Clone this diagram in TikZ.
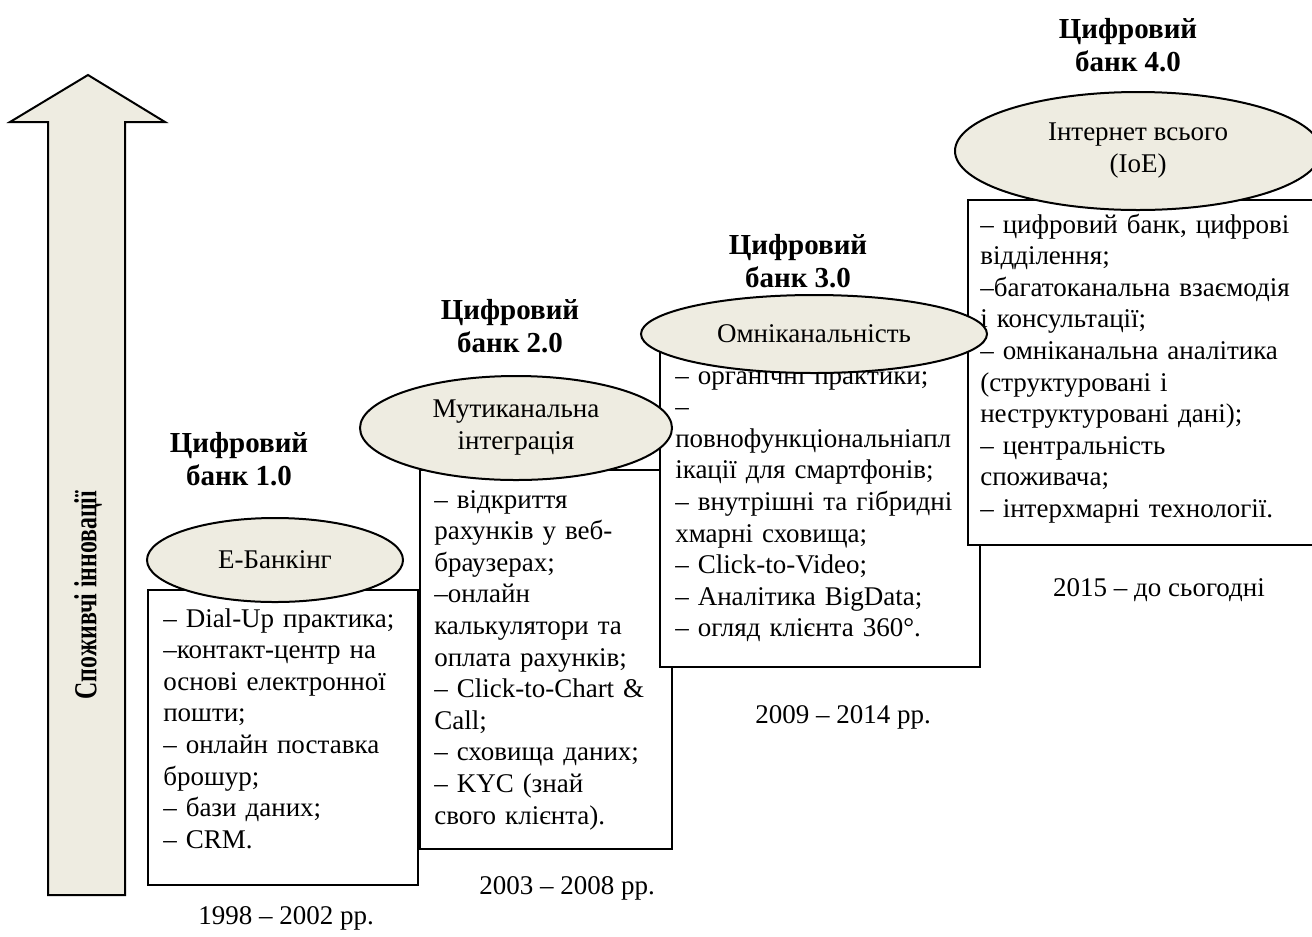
\documentclass[tikz,border=0pt]{standalone}
\usepackage{fontspec}
\setmainfont{Liberation Serif}
\usetikzlibrary{shapes.geometric,fit}
\definecolor{shade}{HTML}{EEECE1}
\begin{document}
\begin{tikzpicture}[x=0.75pt,y=-0.75pt,
  stagebox/.style={draw=black, line width=1.5pt, fill=white, inner sep=0pt},
  oval/.style={ellipse, draw=black, line width=1.5pt, fill=shade, inner sep=0pt,
    align=center, font=\fontsize{20.25}{24}\selectfont},
  stagetitle/.style={align=center, inner sep=0pt, anchor=base,
    font=\fontsize{21.75}{24.75}\selectfont\bfseries},
  itemlist/.style={align=left, inner sep=0pt, anchor=base west, text width=#1,
    font=\fontsize{20.25}{23.7}\selectfont},
  period/.style={inner sep=0pt, font=\fontsize{20.25}{24}\selectfont},
  bigarrow/.style={draw=black, line width=1.5pt, fill=shade, line join=miter}]

\clip (0,0) rectangle (1312,936);

% vertical arrow on the left
\draw[bigarrow] (48,895) -- (48,122) -- (10,122) -- (88,75) -- (165,122)
  -- (125,122) -- (125,895) -- cycle;
\node[rotate=90, inner sep=0pt, font=\fontsize{24}{26}\selectfont\bfseries]
  (axis) at (88,595) {\scalebox{0.745}[1]{Споживчі інновації}};

% stage titles (anchored on the baseline of their second line)
\node[stagetitle] (t1) at (239,485) {Цифровий\\банк 1.0};
\node[stagetitle] (t2) at (510,352) {Цифровий\\банк 2.0};
\node[stagetitle] (t3) at (798,287) {Цифровий\\банк 3.0};
\node[stagetitle] (t4) at (1128,71) {Цифровий\\банк 4.0};

% boxes, each later one over the previous
\node[stagebox, fit={(148,590) (418,885)}] (b1) {};
\node[itemlist=250pt] (l1) at (163,627) {– Dial-Up практика;\\
–контакт-центр на\\основі електронної\\пошти;\\– онлайн поставка\\брошур;\\
– бази даних;\\– CRM.};

\node[stagebox, fit={(420,470) (672,849)}] (b2) {};
\node[itemlist=250pt] (l2) at (434,508) {– відкриття\\рахунків у веб-\\браузерах;\\
–онлайн\\калькулятори та\\оплата рахунків;\\– Click-to-Chart \&\\Call;\\
– сховища даних;\\– KYC (знай\\свого клієнта).};

\node[stagebox, fit={(660,345) (980,667)}] (b3) {};
\node[itemlist=300pt] (l3) at (675,384) {– органічні практики;\\–\\
повнофункціональніапл\\ікації для смартфонів;\\– внутрішні та гібридні\\
хмарні сховища;\\– Click-to-Video;\\– Аналітика BigData;\\– огляд клієнта 360°.};

\node[stagebox, fit={(968,200) (1330,545)}] (b4) {};
\node[itemlist=300pt] (l4) at (980,233) {– цифровий банк, цифрові\\відділення;\\
–багатоканальна взаємодія\\і консультації;\\– омніканальна аналітика\\
(структуровані і\\неструктуровані дані);\\– центральність\\споживача;\\
– інтерхмарні технології.};

% ovals on top of the boxes
\node[oval, minimum width=192pt, minimum height=63pt] (e1) at (275,560) {Е-Банкінг};
\node[oval, minimum width=234pt, minimum height=78pt] (e2) at (516,428)
  {Мутиканальна\\інтеграція};
\node[oval, minimum width=259.5pt, minimum height=58.5pt] (e3) at (814,334)
  {Омніканальність};
\node[oval, minimum width=274.5pt, minimum height=88.5pt] (e4) at (1138,151)
  {Інтернет всього\\(IoE)};

% periods
\node[period] (p1) at (286,918) {1998 – 2002 рр.};
\node[period] (p2) at (567,888) {2003 – 2008 рр.};
\node[period] (p3) at (843,717) {2009 – 2014 рр.};
\node[period] (p4) at (1159,590) {2015 – до сьогодні};
\end{tikzpicture}
\end{document}
